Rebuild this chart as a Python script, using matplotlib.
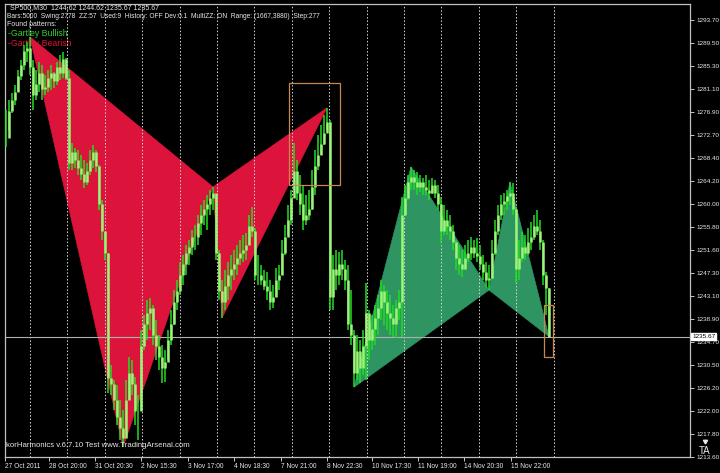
import matplotlib
matplotlib.use('Agg')
import matplotlib.pyplot as plt
import matplotlib.transforms as mtransforms
from matplotlib.lines import Line2D
from matplotlib.patches import Polygon, Rectangle
import numpy as np

# 0. Data: SP500 M30 (bars, coarse resolution)
high = [1277.2, 1279.0, 1280.3, 1281.8, 1284.5, 1286.4, 1289.1, 1289.7, 1290.6, 1286.4,
        1284.5, 1286.0, 1285.4, 1283.6, 1284.5, 1285.4, 1284.2, 1286.0, 1287.3, 1287.8,
        1286.7, 1284.5, 1271.2, 1270.3, 1269.9, 1269.0, 1268.0, 1267.5, 1269.9, 1270.8,
        1269.9, 1267.1, 1260.7, 1254.9, 1251.0, 1230.5, 1227.7, 1226.8, 1224.1, 1222.2,
        1227.7, 1231.9, 1231.4, 1228.3, 1224.9, 1236.9, 1239.6, 1242.4, 1242.8, 1241.5,
        1238.7, 1236.0, 1234.1, 1233.2, 1236.9, 1240.6, 1244.2, 1246.1, 1249.3, 1250.6,
        1252.5, 1253.4, 1255.2, 1256.1, 1258.0, 1259.8, 1260.7, 1261.6, 1262.5, 1263.1,
        1261.6, 1251.5, 1246.1, 1247.9, 1249.3, 1250.6, 1251.5, 1252.5, 1253.4, 1254.3,
        1254.7, 1258.0, 1259.4, 1255.5, 1250.6, 1248.8, 1247.9, 1247.5, 1246.1, 1245.2,
        1248.2, 1248.8, 1253.4, 1256.1, 1259.8, 1262.5, 1271.2, 1268.0, 1265.3, 1263.4,
        1261.6, 1262.5, 1266.2, 1269.9, 1272.6, 1274.5, 1276.3, 1277.6, 1275.4, 1250.6,
        1251.5, 1251.2, 1251.5, 1249.7, 1248.8, 1244.2, 1236.9, 1236.0, 1235.1, 1236.9,
        1245.5, 1240.5, 1239.6, 1241.5, 1243.3, 1246.1, 1245.2, 1244.2, 1243.3, 1241.5,
        1242.4, 1244.2, 1261.3, 1263.4, 1265.3, 1266.8, 1266.2, 1265.8, 1265.3, 1264.7,
        1265.3, 1264.4, 1264.7, 1264.4, 1263.4, 1261.3, 1259.8, 1258.9, 1258.0, 1256.1,
        1253.4, 1252.5, 1251.5, 1252.5, 1253.4, 1253.9, 1253.4, 1253.7, 1252.5, 1250.6,
        1249.3, 1248.8, 1253.4, 1257.0, 1259.8, 1261.6, 1262.0, 1262.5, 1264.0, 1263.8,
        1259.5, 1253.4, 1254.8, 1254.3, 1255.6, 1256.7, 1258.0, 1258.9, 1257.0, 1253.4,
        1247.5, 1244.62]
low = [1270.4, 1273.5, 1276.7, 1278.1, 1280.5, 1282.7, 1284.5, 1286.0, 1283.6, 1277.2,
       1279.0, 1280.5, 1279.0, 1280.0, 1280.5, 1280.9, 1281.2, 1281.8, 1282.7, 1283.1,
       1282.7, 1266.2, 1266.2, 1266.6, 1265.3, 1264.4, 1262.9, 1263.4, 1265.3, 1266.6,
       1265.8, 1258.9, 1253.4, 1249.7, 1225.3, 1225.0, 1222.2, 1219.5, 1216.7, 1215.4,
       1218.6, 1224.1, 1225.0, 1219.5, 1216.7, 1222.0, 1233.2, 1235.1, 1236.9, 1234.2,
       1231.4, 1229.6, 1227.2, 1227.4, 1231.4, 1234.2, 1237.8, 1240.6, 1243.3, 1245.1,
       1246.9, 1248.8, 1250.6, 1251.5, 1252.5, 1254.3, 1256.1, 1255.2, 1258.0, 1258.9,
       1249.7, 1242.4, 1239.1, 1240.6, 1242.4, 1244.2, 1246.1, 1246.9, 1248.8, 1249.3,
       1249.7, 1252.5, 1253.9, 1246.1, 1245.1, 1245.1, 1244.2, 1242.4, 1240.6, 1241.0,
       1243.0, 1244.2, 1246.9, 1250.6, 1254.3, 1256.1, 1262.5, 1260.7, 1258.0, 1255.2,
       1256.1, 1257.0, 1258.9, 1261.6, 1266.2, 1268.9, 1270.8, 1273.5, 1240.6, 1240.6,
       1244.2, 1245.1, 1246.1, 1244.2, 1236.9, 1234.2, 1226.4, 1227.7, 1227.2, 1228.6,
       1227.7, 1231.4, 1233.2, 1234.2, 1236.0, 1238.7, 1237.8, 1236.9, 1236.0, 1235.6,
       1235.4, 1238.7, 1235.6, 1258.0, 1260.7, 1262.5, 1262.5, 1261.6, 1262.2, 1261.6,
       1261.6, 1260.7, 1261.8, 1261.1, 1258.9, 1252.8, 1254.3, 1254.3, 1253.4, 1251.5,
       1247.9, 1246.9, 1246.6, 1247.9, 1249.3, 1249.7, 1250.0, 1249.3, 1247.9, 1246.1,
       1244.8, 1244.2, 1246.3, 1250.6, 1254.3, 1257.0, 1258.0, 1258.9, 1259.8, 1258.0,
       1245.5, 1246.1, 1249.3, 1249.7, 1250.6, 1251.5, 1253.4, 1254.3, 1251.5, 1245.1,
       1239.6, 1235.67]
close = [1272.0, 1277.0, 1279.0, 1280.5, 1283.5, 1285.5, 1288.0, 1288.5, 1285.0, 1280.0,
         1282.0, 1284.0, 1281.0, 1281.5, 1283.0, 1284.0, 1282.5, 1285.0, 1284.0, 1286.5,
         1283.0, 1267.5, 1269.5, 1268.0, 1266.5, 1265.5, 1264.0, 1266.0, 1268.0, 1269.5,
         1267.0, 1260.0, 1255.0, 1251.0, 1228.0, 1227.0, 1224.0, 1221.0, 1219.0, 1217.0,
         1224.0, 1229.0, 1227.0, 1222.0, 1222.0, 1234.0, 1238.0, 1240.0, 1241.0, 1236.0,
         1234.0, 1232.0, 1230.0, 1231.0, 1235.0, 1238.0, 1242.0, 1244.0, 1247.0, 1249.0,
         1251.0, 1252.0, 1254.0, 1254.0, 1256.5, 1258.0, 1259.0, 1260.0, 1261.0, 1262.0,
         1251.0, 1244.0, 1242.0, 1245.0, 1247.0, 1248.0, 1249.0, 1250.0, 1251.0, 1251.5,
         1252.5, 1256.0, 1255.0, 1247.0, 1247.0, 1246.0, 1245.0, 1244.0, 1242.0, 1243.0,
         1246.0, 1247.0, 1251.0, 1254.0, 1257.0, 1261.0, 1266.0, 1262.0, 1260.0, 1257.0,
         1258.0, 1259.0, 1263.0, 1267.0, 1269.0, 1271.0, 1273.0, 1275.0, 1243.0, 1248.0,
         1247.0, 1249.0, 1248.0, 1246.0, 1238.0, 1236.0, 1229.0, 1233.0, 1230.0, 1234.0,
         1240.0, 1235.0, 1237.0, 1239.0, 1241.0, 1244.0, 1242.0, 1240.0, 1239.0, 1238.0,
         1241.0, 1242.0, 1258.0, 1261.0, 1264.0, 1265.0, 1264.0, 1263.0, 1264.0, 1263.0,
         1262.5, 1262.0, 1263.5, 1262.0, 1260.0, 1255.0, 1257.0, 1256.0, 1255.0, 1253.0,
         1250.0, 1249.0, 1248.0, 1250.0, 1251.0, 1252.0, 1251.0, 1250.5, 1249.0, 1247.5,
         1246.0, 1246.5, 1251.0, 1255.0, 1258.0, 1260.0, 1260.5, 1261.5, 1262.0, 1259.0,
         1248.0, 1250.0, 1252.0, 1251.0, 1253.0, 1254.0, 1256.0, 1255.0, 1253.0, 1247.0,
         1244.62, 1235.67]
assert len(high) == len(low) == len(close)

# Gartley pivots (bar index, X A B C D)
bear_pivots = [8, 39, 69, 72, 107]      # high, low, high, low, high
bull_pivots = [116, 135, 161, 168, 181]  # low, high, low, high, low
# PRZ boxes: (first bar, last bar, low price, high price)
bear_box = (94.3, 111.3, 1263.5, 1282.2)
bull_box = (179.3, 182.3, 1231.9, 1241.5)

price_ticks = [1293.7, 1289.5, 1285.3, 1281.1, 1276.9, 1272.7, 1268.4, 1264.2, 1260.0, 1255.8,
               1251.6, 1247.3, 1243.1, 1238.9, 1234.7, 1230.5, 1226.2, 1222.0, 1217.8, 1213.6]
time_ticks = [-0.3, 14.3, 29.7, 45.0, 60.7, 76.0, 91.7, 107.0, 122.0, 137.3, 152.7, 168.3]
time_labels = ['27 Oct 2011', '28 Oct 20:00', '31 Oct 20:30', '2 Nov 15:30', '3 Nov 17:00',
               '4 Nov 18:30', '7 Nov 21:00', '8 Nov 22:30', '10 Nov 17:30', '11 Nov 19:00',
               '14 Nov 20:30', '15 Nov 22:00']
last_price = 1235.67

# 1. Style
plt.rcParams['font.family'] = ['Liberation Sans', 'DejaVu Sans']
C_BAR = '#22dd22'
C_BODY = '#9ff27a'
C_BEAR = '#dc143c'
C_BULL = '#2e9462'
C_BOX = '#c8874e'
C_TXT = '#e8e8e8'

W, H = 720, 473
fig = plt.figure(figsize=(W / 100, H / 100), dpi=100, facecolor='black')
ax = fig.add_axes([5 / W, 16 / H, 685 / W, 453 / H])
ax.set_facecolor('black')
ax.set_xlim(-0.333, 228)
ax.set_ylim(1213.6, 1296.63)

n = len(close)
idx = np.arange(n)
opn = np.array([close[0]] + close[:-1])
hi = np.array(high)
lo = np.array(low)
cl = np.array(close)


def pivot_xy(pivots, first_is_high):
    pts = []
    for k, i in enumerate(pivots):
        is_high = (k % 2 == 0) == first_is_high
        pts.append((i, hi[i] if is_high else lo[i]))
    return pts


# 2. Pattern triangles (XAB and BCD)
for pivots, first_high, col in [(bear_pivots, True, C_BEAR), (bull_pivots, False, C_BULL)]:
    p = pivot_xy(pivots, first_high)
    ax.add_patch(Polygon([p[0], p[1], p[2]], closed=True, facecolor=col, edgecolor=col,
                         linewidth=0.5, zorder=1))
    ax.add_patch(Polygon([p[2], p[3], p[4]], closed=True, facecolor=col, edgecolor=col,
                         linewidth=0.5, zorder=1))

for b in (bear_box, bull_box):
    ax.add_patch(Rectangle((b[0], b[2]), b[1] - b[0], b[3] - b[2], fill=False,
                           edgecolor=C_BOX, linewidth=0.9, zorder=4))

# vertical grid (dotted)
for k in range(15):
    ax.axvline(8 + 12.467 * k, color='#d8d8d8', linewidth=0.7, linestyle=(0, (1.5, 2.0)),
               zorder=2)

# current price line
ax.axhline(last_price, color='#b0b0b0', linewidth=0.8, zorder=2)

# 3. Bars
ax.vlines(idx, lo, hi, color=C_BAR, linewidth=1.1, zorder=3)
ax.vlines(idx, np.minimum(opn, cl), np.maximum(opn, cl), color=C_BODY, linewidth=1.8, zorder=3)

# 4. Axes styling
for s in ax.spines.values():
    s.set_color('#c0c0c0')
    s.set_linewidth(0.9)
ax.yaxis.tick_right()
ax.set_yticks(price_ticks)
ax.set_yticklabels([f'{v:.2f}' for v in price_ticks])
ax.tick_params(axis='y', colors=C_TXT, labelsize=4.6, length=3, width=0.6, pad=1.5)
ax.set_xticks(time_ticks)
ax.set_xticklabels(time_labels)
ax.tick_params(axis='x', colors=C_TXT, labelsize=4.8, length=3, width=0.6, pad=1.5)
for lbl in ax.get_xticklabels():
    lbl.set_ha('left')

trans = mtransforms.blended_transform_factory(ax.transAxes, ax.transData)
ax.text(1.003, last_price, f'{last_price:.2f}', transform=trans, fontsize=4.6, color='black',
        va='center', ha='left', zorder=6,
        bbox=dict(facecolor='white', edgecolor='white', pad=0.6))

# 5. Texts


def px(x, y):
    return x / W, 1 - y / H


fig.text(*px(10, 8), 'SP500,M30  1244.62 1244.62 1235.67 1235.67', fontsize=5.0,
         color=C_TXT, va='center')
fig.text(*px(7, 16), 'Bars:5000  Swing:2778  ZZ:57  Used:9  History: OFF Dev:0.1  MultiZZ: ON  '
         'Range: (1667,3880)  Step:277', fontsize=4.8, color=C_TXT, va='center')
fig.text(*px(7, 25), 'Found patterns:', fontsize=5.0, color=C_TXT, va='center')
# pattern list sits under the drawn objects, as on the terminal
ax.text(*px(8, 34), '-Gartley Bullish', transform=fig.transFigure, fontsize=6.3,
        color='#33cc33', va='center', zorder=0.5)
ax.text(*px(8, 44), '-Gartley Bearish', transform=fig.transFigure, fontsize=6.3,
        color='#dd1133', va='center', zorder=0.5)
fig.text(*px(6, 445), 'korHarmonics v.6.7.10 Test www.TradingArsenal.com', fontsize=5.6,
         color=C_TXT, va='center')
fig.text(*px(705, 451), 'TA', fontsize=7, color=C_TXT, va='center', ha='center')
fig.add_artist(Line2D([705 / W], [1 - 441 / H], marker=(3, 0, 180), markersize=3.5,
                      color=C_TXT, linestyle='none', transform=fig.transFigure))

fig.savefig('out.png', dpi=100, facecolor='black')
